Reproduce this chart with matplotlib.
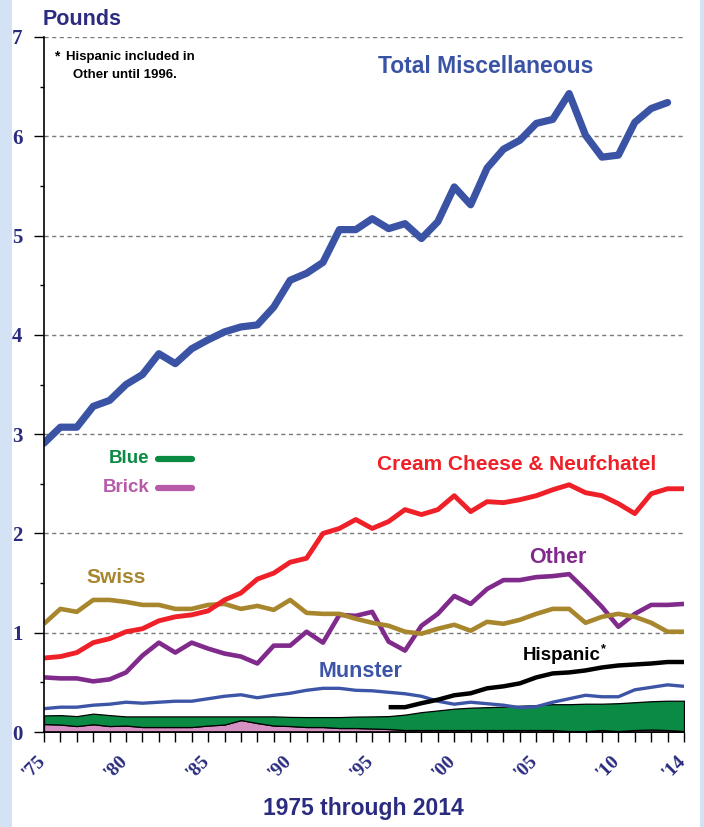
import numpy as np
import matplotlib
matplotlib.use("Agg")
import matplotlib.pyplot as plt
from matplotlib.patches import Rectangle

# Per capita consumption of miscellaneous cheeses, pounds
years = list(range(1975, 2015))
total_years = list(range(1975, 2014))
hispanic_years = list(range(1996, 2015))

total_misc = [2.91, 3.07, 3.07, 3.28, 3.34, 3.50, 3.60, 3.81, 3.71, 3.86,
              3.95, 4.03, 4.08, 4.10, 4.28, 4.55, 4.62, 4.73, 5.06, 5.06,
              5.17, 5.07, 5.12, 4.97, 5.14, 5.49, 5.31, 5.68, 5.87, 5.96,
              6.13, 6.17, 6.43, 6.01, 5.79, 5.81, 6.14, 6.28, 6.34]
cream_cheese = [0.745, 0.76, 0.80, 0.90, 0.94, 1.01, 1.04, 1.12, 1.16, 1.18,
                1.22, 1.33, 1.40, 1.54, 1.60, 1.71, 1.75, 2.00, 2.05, 2.14,
                2.05, 2.12, 2.24, 2.19, 2.24, 2.38, 2.22, 2.32, 2.31, 2.34,
                2.38, 2.44, 2.49, 2.41, 2.38, 2.30, 2.20, 2.40, 2.45, 2.45]
swiss = [1.09, 1.24, 1.21, 1.33, 1.33, 1.31, 1.28, 1.28, 1.24, 1.24,
         1.28, 1.29, 1.24, 1.27, 1.23, 1.33, 1.20, 1.19, 1.19, 1.14,
         1.10, 1.07, 1.01, 0.99, 1.04, 1.08, 1.02, 1.11, 1.09, 1.13,
         1.19, 1.24, 1.24, 1.10, 1.16, 1.19, 1.16, 1.10, 1.01, 1.01]
other = [0.55, 0.54, 0.54, 0.51, 0.53, 0.60, 0.77, 0.90, 0.80, 0.90,
         0.84, 0.79, 0.76, 0.69, 0.87, 0.87, 1.01, 0.90, 1.18, 1.17,
         1.21, 0.91, 0.82, 1.07, 1.19, 1.37, 1.29, 1.44, 1.53, 1.53,
         1.56, 1.57, 1.59, 1.43, 1.26, 1.06, 1.19, 1.28, 1.28, 1.29]
munster = [0.235, 0.25, 0.25, 0.27, 0.28, 0.30, 0.29, 0.30, 0.31, 0.31,
           0.335, 0.36, 0.375, 0.345, 0.37, 0.39, 0.42, 0.44, 0.44, 0.42,
           0.415, 0.40, 0.385, 0.36, 0.31, 0.28, 0.30, 0.285, 0.27, 0.245,
           0.255, 0.30, 0.335, 0.37, 0.355, 0.355, 0.425, 0.45, 0.475, 0.46]
hispanic = [0.25, 0.25, 0.29, 0.325, 0.37, 0.39, 0.44, 0.46, 0.49, 0.55,
            0.59, 0.60, 0.62, 0.65, 0.67, 0.68, 0.69, 0.705, 0.705]
brick = [0.08, 0.075, 0.06, 0.078, 0.06, 0.065, 0.05, 0.05, 0.05, 0.05,
         0.065, 0.075, 0.12, 0.09, 0.065, 0.06, 0.05, 0.05, 0.04, 0.04,
         0.035, 0.03, 0.02, 0.02, 0.02, 0.02, 0.02, 0.02, 0.02, 0.02,
         0.02, 0.02, 0.01, 0.01, 0.02, 0.01, 0.02, 0.025, 0.02, 0.01]
blue = [0.087, 0.095, 0.10, 0.107, 0.11, 0.092, 0.107, 0.107, 0.107, 0.107,
        0.092, 0.082, 0.037, 0.067, 0.092, 0.092, 0.10, 0.10, 0.11, 0.115,
        0.122, 0.13, 0.155, 0.18, 0.197, 0.215, 0.225, 0.23, 0.235, 0.245,
        0.25, 0.26, 0.27, 0.275, 0.265, 0.28, 0.28, 0.285, 0.295, 0.305]

xtick_years = [1975, 1980, 1985, 1990, 1995, 2000, 2005, 2010, 2014]
xtick_labels = ["'75", "'80", "'85", "'90", "'95", "'00", "'05", "'10", "'14"]

NAVY = "#2b2c80"
SANS = "Liberation Sans"
SERIF = "Liberation Serif"

fig = plt.figure(figsize=(7.04, 8.27), dpi=100, facecolor="white")
# light blue page border on both sides
for x0, w in [(0, 12), (700, 4)]:
    fig.patches.append(Rectangle((x0 / 704, 0), w / 704, 1, transform=fig.transFigure,
                                 facecolor="#d3e2f4", edgecolor="none", zorder=-1))

ax = fig.add_axes([44 / 704, 95 / 827, 640 / 704, 695 / 827])
ax.set_facecolor("white")

# stacked areas: brick on the bottom, blue on top
brick_arr = np.array(brick)
stack_top = brick_arr + np.array(blue)
ax.fill_between(years, 0, brick_arr, facecolor="#d691c3", edgecolor="black", lw=0.9, zorder=2)
ax.fill_between(years, brick_arr, stack_top, facecolor="#0b8a44", edgecolor="black", lw=0.9, zorder=2)

ax.plot(years, munster, color="#3c55a6", lw=2.4, zorder=3, solid_capstyle="butt")
ax.plot(hispanic_years, hispanic, color="black", lw=3.2, zorder=4, solid_capstyle="butt")
ax.plot(years, other, color="#802a8c", lw=3.3, zorder=4, solid_capstyle="butt")
ax.plot(years, swiss, color="#a8862e", lw=3.3, zorder=4, solid_capstyle="butt")
ax.plot(years, cream_cheese, color="#ef2028", lw=3.5, zorder=5, solid_capstyle="butt")
ax.plot(total_years, total_misc, color="#3a53a4", lw=5.2, zorder=6, solid_capstyle="round")

ax.set_xlim(1975, 2014)
ax.set_ylim(0, 7)
ax.set_yticks(range(0, 8))
ax.set_yticks(np.arange(0.5, 7, 1.0), minor=True)
ax.set_xticks(years)
ax.set_xticklabels([])
ax.tick_params(axis="y", which="major", direction="out", length=7.5, width=1, pad=8,
               labelsize=15, labelcolor=NAVY)
ax.tick_params(axis="y", which="minor", direction="out", length=3, width=1)
ax.tick_params(axis="x", direction="out", length=7.5, width=1)
for lab in ax.get_yticklabels():
    lab.set_fontfamily(SERIF)
    lab.set_fontweight("bold")

for yr, lab in zip(xtick_years, xtick_labels):
    ax.text(yr + 0.3, -0.2, lab, rotation=45, ha="right", va="top",
            fontsize=14, fontweight="bold", family=SERIF, color=NAVY, clip_on=False)

ax.grid(axis="y", which="major", color="#7a7a7a", lw=1.0, linestyle=(0, (3, 2.5)))
ax.set_axisbelow(True)
for side in ["top", "right"]:
    ax.spines[side].set_visible(False)
for side in ["left", "bottom"]:
    ax.spines[side].set_linewidth(1.2)
    ax.spines[side].set_zorder(7)

# series labels
lbl = dict(fontweight="bold", family=SANS, ha="center", va="center")
ax.text(2001.9, 6.70, "Total Miscellaneous", color="#3a53a4", fontsize=16.5, **lbl)
ax.text(2003.8, 2.69, "Cream Cheese & Neufchatel", color="#ef2028", fontsize=15, **lbl)
ax.text(2006.3, 1.76, "Other", color="#802a8c", fontsize=15.5, **lbl)
ax.text(1979.4, 1.56, "Swiss", color="#a8862e", fontsize=15, **lbl)
ax.text(1994.3, 0.61, "Munster", color="#3c55a6", fontsize=15.5, **lbl)
ax.text(2004.2, 0.77, "Hispanic", color="black", fontsize=13.5, fontweight="bold",
        family=SANS, ha="left", va="center")
ax.text(2008.95, 0.83, "*", color="black", fontsize=9, fontweight="bold",
        family=SANS, ha="left", va="center")

# legend for the stacked areas
ax.text(1981.4, 2.75, "Blue", color="#0b8a44", fontsize=13.5, fontweight="bold",
        family=SANS, ha="right", va="center")
ax.plot([1981.95, 1984.0], [2.75, 2.75], color="#0b8a44", lw=4.5, solid_capstyle="round")
ax.text(1981.4, 2.46, "Brick", color="#b75aa8", fontsize=13.5, fontweight="bold",
        family=SANS, ha="right", va="center")
ax.plot([1981.95, 1984.0], [2.46, 2.46], color="#b75aa8", lw=4.5, solid_capstyle="round")

# footnote
ax.text(1975.6, 6.80, "*", fontsize=10, fontweight="bold", family=SANS, ha="left", va="center")
ax.text(1976.35, 6.80, "Hispanic included in", fontsize=9.5, fontweight="bold",
        family=SANS, ha="left", va="center")
ax.text(1976.75, 6.62, "Other until 1996.", fontsize=9.5, fontweight="bold",
        family=SANS, ha="left", va="center")

ax.text(1974.94, 7.18, "Pounds", color=NAVY, fontsize=15.5, fontweight="bold",
        family=SANS, ha="left", va="center", clip_on=False)
fig.text(363.5 / 704, 1 - 808 / 827, "1975 through 2014", color=NAVY, fontsize=16.5,
         fontweight="bold", family=SANS, ha="center", va="center")

fig.savefig("out.png", dpi=100, facecolor=fig.get_facecolor())
